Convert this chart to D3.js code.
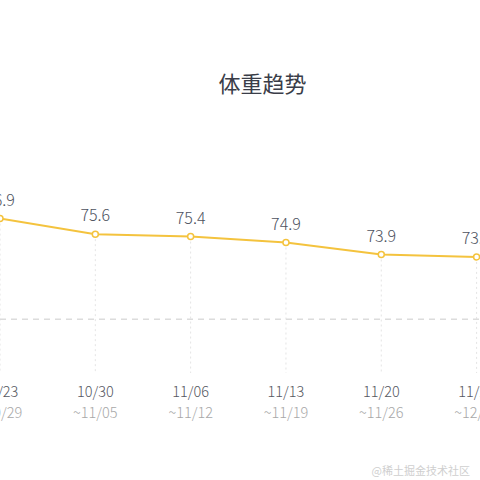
<!DOCTYPE html>
<html>
<head>
<meta charset="utf-8">
<script src="https://cdn.jsdelivr.net/npm/d3@7"></script>
<style>
    html, body { margin: 0; padding: 0; background: #fff; }
    svg { display: block; font-family: "Noto Sans CJK SC", "Noto Sans", sans-serif; }
</style>
</head>
<body>
<div id="chart"></div>
<script>
// weekly average weight, one point per week
const weekStarts = ["10/23", "10/30", "11/06", "11/13", "11/20", "11/27"];
const weekEnds = ["~10/29", "~11/05", "~11/12", "~11/19", "~11/26", "~12/03"];
const weights = [76.9, 75.6, 75.4, 74.9, 73.9, 73.7];
const targetWeight = [68.5];

const width = 480;
const height = 480;
const plotBottom = 373;

const data = weekStarts.map((week, i) => ({ week, end: weekEnds[i], value: weights[i] }));

const x = d3.scalePoint()
    .domain(weekStarts)
    .range([0, 476.6]);

const y = d3.scaleLinear()
    .domain([64, 80])
    .range([plotBottom, 181.5]);

const svg = d3.select("#chart")
    .append("svg")
    .attr("width", width)
    .attr("height", height);

svg.append("text")
    .attr("x", 262.5)
    .attr("y", 92)
    .attr("text-anchor", "middle")
    .attr("font-size", 22)
    .attr("fill", "#3a3d48")
    .text("体重趋势");

// dotted guides under every point
svg.append("g")
    .selectAll("line")
    .data(data)
    .join("line")
    .attr("x1", d => x(d.week))
    .attr("x2", d => x(d.week))
    .attr("y1", d => y(d.value))
    .attr("y2", plotBottom)
    .attr("stroke", "#e4e4e4")
    .attr("stroke-width", 1)
    .attr("stroke-dasharray", "2,3");

// target line
svg.append("g")
    .selectAll("line")
    .data(targetWeight)
    .join("line")
    .attr("x1", 0)
    .attr("x2", width)
    .attr("y1", d => y(d))
    .attr("y2", d => y(d))
    .attr("stroke", "#dcdcdc")
    .attr("stroke-width", 1.5)
    .attr("stroke-dasharray", "6,5");

const line = d3.line()
    .x(d => x(d.week))
    .y(d => y(d.value));

svg.append("path")
    .datum(data)
    .attr("d", line)
    .attr("fill", "none")
    .attr("stroke", "#f4c33e")
    .attr("stroke-width", 2);

svg.append("g")
    .selectAll("circle")
    .data(data)
    .join("circle")
    .attr("cx", d => x(d.week))
    .attr("cy", d => y(d.value))
    .attr("r", 3)
    .attr("fill", "#fff")
    .attr("stroke", "#f4c33e")
    .attr("stroke-width", 1.5);

svg.append("g")
    .selectAll("text")
    .data(data)
    .join("text")
    .attr("x", d => x(d.week))
    .attr("y", d => y(d.value) - 13)
    .attr("text-anchor", "middle")
    .attr("font-size", 16)
    .attr("font-weight", 300)
    .attr("fill", "#4d5260")
    .text(d => d.value.toFixed(1));

// two-line week labels
const labels = svg.append("g")
    .selectAll("g")
    .data(data)
    .join("g")
    .attr("transform", d => `translate(${x(d.week)},0)`);

labels.append("text")
    .attr("y", 397)
    .attr("text-anchor", "middle")
    .attr("font-size", 14.5)
    .attr("font-weight", 300)
    .attr("fill", "#55585f")
    .text(d => d.week);

labels.append("text")
    .attr("y", 418)
    .attr("text-anchor", "middle")
    .attr("font-size", 14.5)
    .attr("font-weight", 300)
    .attr("fill", "#a8a8a8")
    .text(d => d.end);

svg.append("text")
    .attr("x", 470)
    .attr("y", 475)
    .attr("text-anchor", "end")
    .attr("font-size", 11)
    .attr("fill", "#cfcfcf")
    .text("@稀土掘金技术社区");
</script>
</body>
</html>
